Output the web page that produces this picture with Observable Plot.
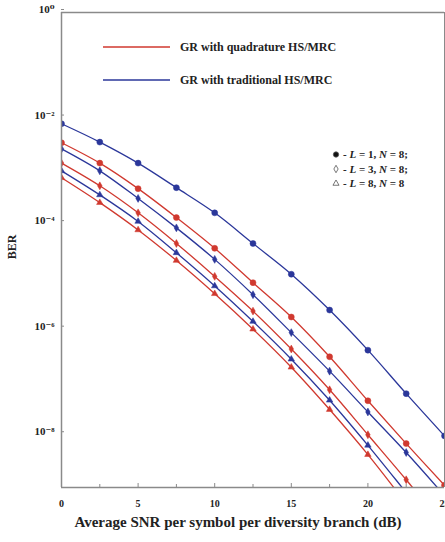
<!DOCTYPE html>
<html><head><meta charset="utf-8">
<script src="https://cdn.jsdelivr.net/npm/d3@7"></script>
<script src="https://cdn.jsdelivr.net/npm/@observablehq/plot@0.6"></script>
<style>body{margin:0;background:#fff}#chart{width:445px;height:542px}</style>
</head><body><div id="chart"></div>
<script>
const snr = [0, 2.5, 5, 7.5, 10, 12.5, 15, 17.5, 20, 22.5, 25];
const tradL1 = [7.8e-3, 3.5e-3, 1.4e-3, 4.8e-4, 1.6e-4, 4.2e-5, 1.1e-5, 2.3e-6, 4.0e-7, 6.0e-8, 9.5e-9];
const quadL1 = [3.4e-3, 1.4e-3, 4.6e-4, 1.3e-4, 3.4e-5, 7.6e-6, 1.7e-6, 3.0e-7, 4.4e-8, 6.8e-9, 1.1e-9];
const tradL3 = [2.6e-3, 1.0e-3, 3.0e-4, 8.3e-5, 2.1e-5, 4.5e-6, 8.6e-7, 1.6e-7, 2.7e-8, 4.6e-9, 7.0e-10];
const quadL3 = [1.4e-3, 5.2e-4, 1.6e-4, 4.2e-5, 1.0e-5, 2.2e-6, 4.2e-7, 7.1e-8, 1.0e-8, 1.4e-9, 1.8e-10];
const tradL8 = [1.0e-3, 3.5e-4, 1.1e-4, 2.8e-5, 6.6e-6, 1.4e-6, 2.7e-7, 4.5e-8, 6.3e-9, 8.0e-10, 1.0e-10];
const quadL8 = [7.4e-4, 2.5e-4, 7.6e-5, 2.0e-5, 4.7e-6, 1.0e-6, 1.9e-7, 3.0e-8, 4.2e-9, 5.0e-10, 6.0e-11];
const methods = ["GR with quadrature HS/MRC", "GR with traditional HS/MRC"];
const diversity = ["L=1, N=8;", "L=3, N=8;", "L=8, N=8"];
const yTicks = [1, 1e-2, 1e-4, 1e-6, 1e-8];
const yTickLabels = ["10⁰", "10⁻²", "10⁻⁴", "10⁻⁶", "10⁻⁸"];
const xTicks = [0, 5, 10, 15, 20, 25];
const xMinor = [2.5, 7.5, 12.5, 17.5, 22.5];

const RED = "#d0392f", BLUE = "#2b379a", AXIS = "#8a8a8a";
const series = [
  {m: methods[0], L: diversity[0], v: quadL1},
  {m: methods[1], L: diversity[0], v: tradL1},
  {m: methods[0], L: diversity[1], v: quadL3},
  {m: methods[1], L: diversity[1], v: tradL3},
  {m: methods[0], L: diversity[2], v: quadL8},
  {m: methods[1], L: diversity[2], v: tradL8}
];
const rows = series.flatMap(s => s.v.map((b, i) => ({snr: snr[i], ber: b, method: s.m, L: s.L, key: s.m + s.L})));
const inDomain = rows.filter(d => d.ber >= 1e-9);
const color = d => d.method === methods[0] ? RED : BLUE;
const serif = "'Liberation Serif', 'Times New Roman', 'DejaVu Serif', serif";

const plot = Plot.plot({
  width: 445, height: 542,
  marginLeft: 61, marginRight: 1, marginTop: 12, marginBottom: 55,
  style: {fontFamily: serif, fontWeight: "bold", fontSize: "9px", background: "white"},
  x: {domain: [0, 25]},
  y: {type: "log", domain: [1e-9, 1]},
  marks: [
    Plot.ruleY([1], {stroke: AXIS, strokeWidth: 1.5}),
    Plot.ruleX([25], {stroke: AXIS, strokeWidth: 1}),
    Plot.line(rows, {x: "snr", y: "ber", z: "key", stroke: color, strokeWidth: 1.3, curve: "catmull-rom", clip: true}),
    Plot.dot(inDomain.filter(d => d.L === diversity[0]), {x: "snr", y: "ber", symbol: "circle", r: 3, fill: color, stroke: color, strokeWidth: 0.5, clip: true}),
    Plot.dot(inDomain.filter(d => d.L === diversity[1]), {x: "snr", y: "ber", symbol: "diamond", r: 2.4, fill: color, stroke: color, strokeWidth: 0.5, clip: true}),
    Plot.dot(inDomain.filter(d => d.L === diversity[2]), {x: "snr", y: "ber", symbol: "triangle", r: 2.4, fill: color, stroke: color, strokeWidth: 0.5, clip: true}),
    Plot.axisX({ticks: xTicks, tickSize: -4, tickFormat: d => String(d), label: null, tickPadding: 16, fontSize: 10, stroke: AXIS, fill: "#222"}),
    Plot.axisX({ticks: xMinor, tickSize: -3, tickFormat: () => "", label: null, stroke: AXIS}),
    Plot.axisY({ticks: yTicks, tickSize: -3, tickFormat: (d) => yTickLabels[yTicks.indexOf(d)], label: null, tickPadding: 10, fontSize: 11, stroke: AXIS, fill: "#222", dy: -3}),
    Plot.ruleX([0], {stroke: AXIS, strokeWidth: 1.5}),
    Plot.ruleY([1e-9], {stroke: AXIS, strokeWidth: 1.5})
  ]
});
document.getElementById("chart").append(plot);

const svg = d3.select(plot);
const ann = svg.append("g").attr("font-family", serif).attr("font-weight", "bold").attr("fill", "#222").attr("text-anchor", "start");
// axis titles
ann.append("text").attr("x", 238).attr("y", 527).attr("text-anchor", "middle").attr("font-size", 15).text("Average SNR per symbol per diversity branch (dB)");
ann.append("text").attr("transform", "translate(16,247) rotate(-90)").attr("text-anchor", "middle").attr("font-size", 12).text("BER");
// method legend
[[RED, 47], [BLUE, 80]].forEach(([c, y], i) => {
  ann.append("line").attr("x1", 103).attr("x2", 170).attr("y1", y).attr("y2", y).attr("stroke", c).attr("stroke-width", 1.6);
  ann.append("text").attr("x", 180).attr("y", y + 4).attr("font-size", 12).text(methods[i]);
});
// diversity legend
const syms = [d3.symbolCircle, d3.symbolDiamond, d3.symbolTriangle];
diversity.forEach((lab, i) => {
  const y = 158 + i * 14.5;
  ann.append("path").attr("d", d3.symbol(syms[i], i === 0 ? 22 : 16)()).attr("transform", `translate(336,${y - 3.5})`).attr("fill", i === 0 ? "#111" : "none").attr("stroke", "#555").attr("stroke-width", 0.8);
  const m = lab.match(/L=(\d+), N=(\d+)(;?)/);
  const t = ann.append("text").attr("x", 343).attr("y", y).attr("font-size", 11);
  t.append("tspan").text("- ");
  t.append("tspan").attr("font-style", "italic").text("L");
  t.append("tspan").text(" = " + m[1] + ", ");
  t.append("tspan").attr("font-style", "italic").text("N");
  t.append("tspan").text(" = " + m[2] + m[3]);
});
</script></body></html>
